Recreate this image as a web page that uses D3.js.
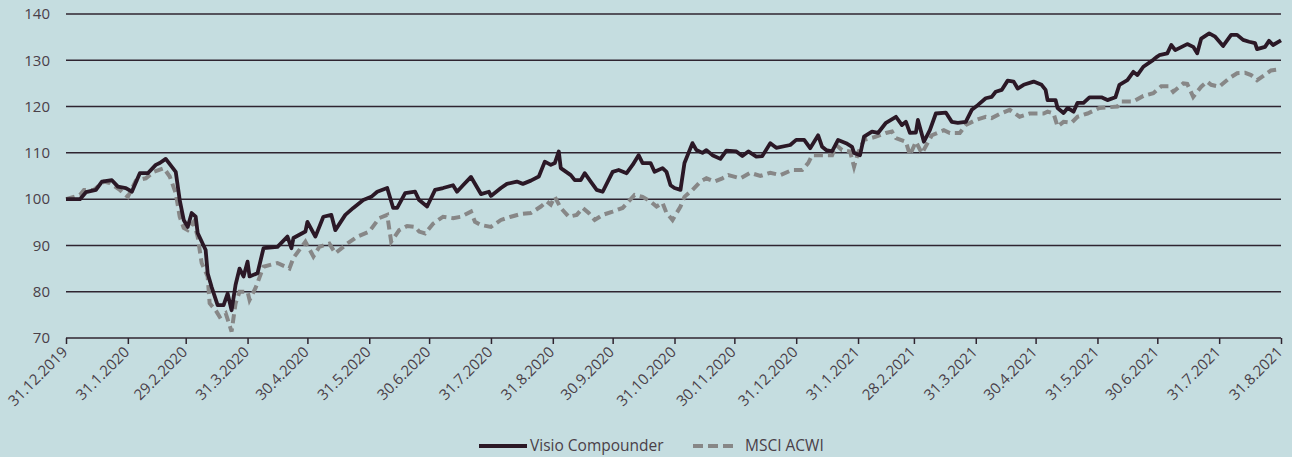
<!DOCTYPE html>
<html>
<head>
<meta charset="utf-8">
<script src="https://cdn.jsdelivr.net/npm/d3@7"></script>
<style>
  body { margin: 0; background: #c5dde0; }
  svg { display: block; font-family: "Open Sans", Lato, sans-serif; }
</style>
</head>
<body>
<div id="chart"></div>
<script>
// tick labels of the x axis (month ends) and y axis
const xTickLabels = ["31.12.2019", "31.1.2020", "29.2.2020", "31.3.2020", "30.4.2020", "31.5.2020",
    "30.6.2020", "31.7.2020", "31.8.2020", "30.9.2020", "31.10.2020", "30.11.2020", "31.12.2020",
    "31.1.2021", "28.2.2021", "31.3.2021", "30.4.2021", "31.5.2021", "30.6.2021", "31.7.2021", "31.8.2021"];
const yTicks = [70, 80, 90, 100, 110, 120, 130, 140];

// series, days counted from 31.12.2019
const visioDays = [0, 7, 10, 15, 18, 23, 26, 30, 33, 37, 41, 45, 47, 50, 55, 57, 59, 61, 63, 65, 66, 70, 71, 73, 76, 79, 81, 83, 85, 87, 89, 91, 92, 96, 99, 106, 111, 113, 114, 120, 121, 125,
    129, 133, 135, 140, 144, 149, 153, 156, 161, 164, 166, 170, 175, 177, 181, 185, 189, 194, 196, 199, 203, 208, 212, 213, 218, 221, 226, 229, 233, 237,
    240, 243, 245, 247, 248, 253, 255, 258, 260, 263, 266, 269, 274, 277, 281, 284, 287, 289, 293, 295, 299, 301, 303, 305, 308, 310, 314, 316, 319, 321, 324, 328, 331, 336, 339, 342, 346, 349, 353, 356,
    363, 366, 370, 373, 377, 379, 381, 384, 387, 391, 394, 395, 398, 400, 404, 407, 411, 416, 419, 421, 423, 426, 427, 430, 433, 436, 441, 444, 447, 451, 454, 457, 461, 464, 466, 469, 472, 475, 477, 480, 485,
    489, 491, 492, 496, 497, 500, 502, 505, 507, 510, 513, 519, 522, 526, 528, 532, 535, 537, 540, 545, 547, 548, 552, 554, 556, 562, 565, 567, 569, 573, 576, 580, 584, 587, 590, 593, 596, 597, 601, 603, 605, 609];
const visioValues = [100, 100, 101.5, 102, 103.8, 104.1, 102.7, 102.4, 101.6, 105.6, 105.6, 107.4, 107.8, 108.7, 105.9, 99.8, 95.5, 94, 97, 96.2, 92.7, 89, 84, 81, 77.1, 77.1, 79.6, 76, 81.5, 85, 83.3, 86.5, 83.3, 84, 89.4, 89.7, 91.9, 89.4, 91.6, 93, 95.1, 91.9,
    96.2, 96.6, 93.3, 96.6, 98.1, 99.8, 100.5, 101.6, 102.4, 98.1, 98.1, 101.3, 101.6, 99.8, 98.4, 102, 102.4, 103, 101.6, 103, 104.8, 101.1, 101.6, 100.7, 102.4, 103.3, 103.8, 103.3, 104, 104.9,
    108.1, 107.4, 107.8, 110.3, 106.7, 105.2, 104.1, 104.1, 105.6, 103.8, 102, 101.6, 105.9, 106.3, 105.6, 107.4, 109.5, 107.8, 107.8, 105.9, 106.7, 105.9, 103, 102.4, 102, 107.8, 112.1, 110.6, 110, 110.6, 109.5, 108.7, 110.5, 110.3, 109.3, 110.3, 109.2, 109.3, 112.1, 111.1,
    111.7, 112.8, 112.8, 111, 113.8, 111.3, 110.6, 110.3, 112.8, 112.1, 111.3, 110, 109.5, 113.5, 114.6, 114.3, 116.5, 117.8, 116, 116.7, 114.3, 114.4, 117.1, 112.4, 114.9, 118.5, 118.7, 116.7, 116.5, 116.7, 119.3, 120.3, 121.8, 122.1, 123.2, 123.6, 125.6, 125.4, 123.9, 124.7, 125.4,
    124.7, 123.6, 121.4, 121.4, 119.7, 118.6, 119.7, 118.9, 120.8, 120.8, 122, 122, 121.4, 122, 124.7, 125.7, 127.5, 126.8, 128.6, 130.1, 130.8, 131.1, 131.5, 133.3, 132.2, 133.5, 132.9, 131.5, 134.7, 135.8, 135.1, 133.1, 135.5, 135.5, 134.4, 134, 133.7, 132.4, 132.9, 134.2, 133.3, 134.3];

const msciDays = [0, 7, 9, 14, 19, 22, 27, 31, 35, 40, 44, 49, 52, 55, 57, 59, 61, 64, 66, 68, 71, 72, 75, 77, 80, 83, 85, 87, 91, 92, 95, 99, 106, 112, 114, 120, 124, 127,
    132, 135, 141, 146, 152, 157, 161, 163, 167, 171, 175, 177, 180, 184, 189, 194, 198, 203, 205, 208, 213, 218, 223, 228, 233, 238, 241,
    243, 245, 248, 252, 256, 259, 262, 265, 269, 274, 279, 285, 289, 293, 296, 299, 301, 304, 308, 310, 314, 318, 321, 325, 329, 332, 338, 343, 348, 353, 358,
    364, 369, 372, 374, 379, 384, 386, 389, 393, 395, 397, 400, 406, 411, 414, 416, 421, 423, 426, 429, 434, 440, 443, 448, 451, 456, 461, 464, 468, 473, 478, 483,
    490, 492, 495, 497, 500, 504, 507, 512, 518, 527, 529, 535, 540, 545, 549, 553, 555, 560, 562, 565, 569, 572, 574, 578, 583, 587, 591, 594, 597, 602, 604, 609];
const msciValues = [100, 100.9, 102, 102, 103.8, 103.5, 102, 100.5, 104, 104.5, 105.9, 106.7, 104.9, 101.3, 96.2, 93.8, 93.3, 95.1, 91.9, 86.2, 83.3, 77.5, 76, 74.6, 75.4, 71.4, 77.5, 80, 80, 78.2, 80.8, 85.4, 86.2, 85, 87.3, 90.8, 87.6, 89.7,
    90.4, 88.3, 90.4, 91.9, 93, 95.9, 96.6, 90.8, 93.3, 94.2, 94, 93, 92.6, 94.7, 96.2, 95.9, 96.2, 97.3, 95.1, 94.4, 94, 95.5, 96.2, 96.8, 97, 98.4, 99.5,
    98.8, 100.5, 98.1, 96.2, 96.6, 98.1, 97, 95.5, 96.6, 97.3, 98.1, 100.9, 100.5, 99.5, 98.4, 99.2, 97, 95.5, 98.4, 100.5, 102, 103.8, 104.5, 103.8, 104.5, 105.2, 104.5, 105.7, 105, 105.7, 105.2,
    106.3, 106.3, 107.8, 109.5, 109.5, 109.5, 111.7, 110.6, 110.3, 107, 110, 112.8, 113.5, 114.3, 114.6, 113.2, 112.4, 109.5, 112.4, 109.9, 113.8, 114.9, 114.3, 114.3, 116, 117.1, 117.8, 117.5, 118.4, 119.3, 117.8, 118.5,
    118.5, 118.9, 118.5, 115.7, 116.7, 116.5, 117.8, 118.5, 119.7, 120, 121.1, 121.1, 122.3, 122.9, 124.4, 124.4, 123.2, 125, 124.9, 122.1, 124.3, 125.4, 124.7, 124.3, 126.1, 127.2, 127.3, 126.8, 125.7, 127.2, 127.8, 128.1];

const seriesNames = ["Visio Compounder", "MSCI ACWI"];

// dimensions
const totalWidth = 1292, totalHeight = 457;
const margin = { top: 14, right: 11, bottom: 119, left: 66 },
    width = totalWidth - margin.left - margin.right,
    height = totalHeight - margin.top - margin.bottom;

const svg = d3.select("#chart")
    .append("svg")
    .attr("width", totalWidth)
    .attr("height", totalHeight);

svg.append("rect")
    .attr("width", totalWidth)
    .attr("height", totalHeight)
    .attr("fill", "#c5dde0");

const g = svg.append("g")
    .attr("transform", `translate(${margin.left}, ${margin.top})`);

const startDate = new Date(2019, 11, 31);
const parseLabel = function(s) {
    const p = s.split(".");
    return new Date(+p[2], +p[1] - 1, +p[0]);
};
const tickDates = xTickLabels.map(parseLabel);

const x = d3.scaleTime()
    .domain([startDate, tickDates[tickDates.length - 1]])
    .range([0, width]);

const y = d3.scaleLinear()
    .domain([70, 140])
    .range([height, 0]);

// grid lines
g.selectAll(".grid")
    .data(yTicks)
    .join("line")
    .attr("class", "grid")
    .attr("x1", 0)
    .attr("x2", width)
    .attr("y1", d => y(d))
    .attr("y2", d => y(d))
    .attr("stroke", "#2f2430")
    .attr("stroke-width", 1.5);

// y labels
g.selectAll(".ylab")
    .data(yTicks)
    .join("text")
    .attr("class", "ylab")
    .attr("x", -16)
    .attr("y", d => y(d))
    .attr("dy", "0.35em")
    .attr("text-anchor", "end")
    .attr("fill", "#4a4048")
    .style("font-size", "15px")
    .text(d => d);

// x axis
const xAxis = g.append("g")
    .attr("transform", `translate(0, ${height})`)
    .call(d3.axisBottom(x)
        .tickValues(tickDates)
        .tickSize(6)
        .tickFormat((d, i) => xTickLabels[i]));
xAxis.select(".domain").remove();
xAxis.selectAll(".tick line")
    .attr("stroke", "#2f2430")
    .attr("stroke-width", 1.5);
xAxis.selectAll(".tick text")
    .attr("fill", "#4a4048")
    .style("font-size", "15px")
    .style("font-family", "'Open Sans', Lato, sans-serif")
    .attr("text-anchor", "end")
    .attr("dy", null)
    .attr("y", 0)
    .attr("transform", "translate(2, 15) rotate(-45)");

// lines
const toPoints = (days, values) => days.map((d, i) => ({ date: d3.timeDay.offset(startDate, d), value: values[i] }));
const line = d3.line()
    .x(d => x(d.date))
    .y(d => y(d.value));

g.append("path")
    .datum(toPoints(msciDays, msciValues))
    .attr("fill", "none")
    .attr("stroke", "#878787")
    .attr("stroke-width", 4)
    .attr("stroke-dasharray", "9,5")
    .attr("d", line);

g.append("path")
    .datum(toPoints(visioDays, visioValues))
    .attr("fill", "none")
    .attr("stroke", "#2b1826")
    .attr("stroke-width", 3.8)
    .attr("stroke-linejoin", "round")
    .attr("d", line);

// legend
const legend = svg.append("g").attr("transform", "translate(0, 446)");
legend.append("line")
    .attr("x1", 479).attr("x2", 527)
    .attr("stroke", "#2b1826").attr("stroke-width", 3.8);
legend.append("text")
    .attr("x", 530).attr("dy", "0.35em")
    .attr("fill", "#4a4048").style("font-size", "15.5px")
    .text(seriesNames[0]);
legend.append("line")
    .attr("x1", 693).attr("x2", 737)
    .attr("stroke", "#878787").attr("stroke-width", 4)
    .attr("stroke-dasharray", "10,5");
legend.append("text")
    .attr("x", 745).attr("dy", "0.35em")
    .attr("fill", "#4a4048").style("font-size", "15.5px")
    .text(seriesNames[1]);
</script>
</body>
</html>
